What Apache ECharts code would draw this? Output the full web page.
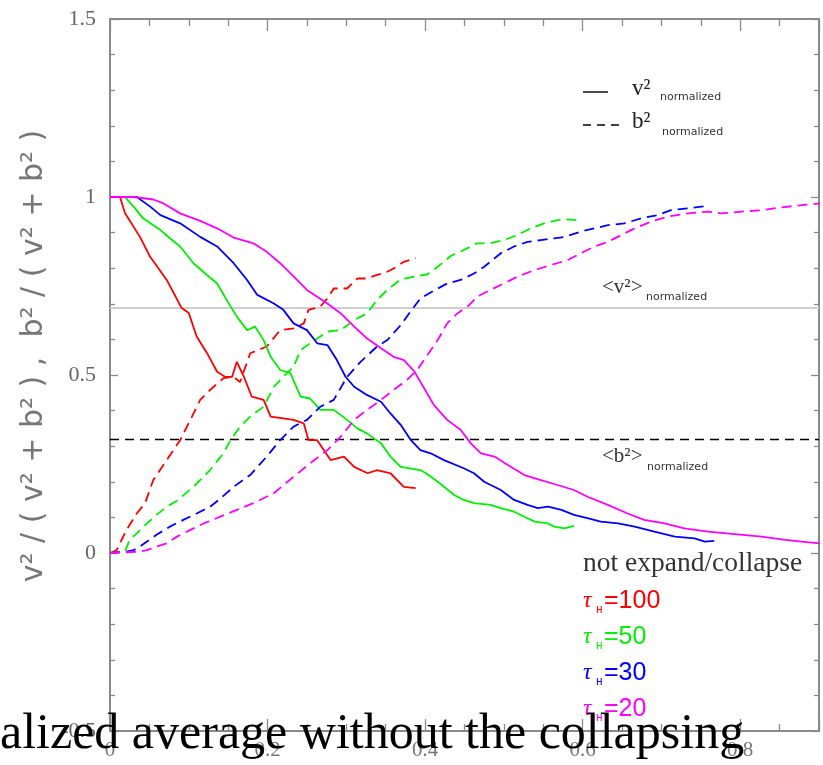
<!DOCTYPE html>
<html>
<head>
<meta charset="utf-8">
<script src="https://cdn.jsdelivr.net/npm/echarts@6/dist/echarts.min.js"></script>
<style>html,body{margin:0;padding:0;background:#fff}#c{width:823px;height:765px}</style>
</head>
<body>
<div id="c"></div>
<script>
// ---- data ----
var xTicks = [0, 0.2, 0.4, 0.6, 0.8];
var yTicks = [-0.5, 0, 0.5, 1, 1.5];
var avgV2 = 0.685;   // <v^2>normalized
var avgB2 = 0.317;   // <b^2>normalized

var redV = [[0,1],[0.0127,1],[0.019,0.955],[0.038,0.888],[0.051,0.832],[0.072,0.767],[0.091,0.688],[0.1,0.674],[0.11,0.608],[0.123,0.562],[0.136,0.509],[0.146,0.495],[0.155,0.495],[0.161,0.537],[0.17,0.495],[0.18,0.439],[0.195,0.43],[0.204,0.383],[0.22,0.378],[0.233,0.374],[0.246,0.364],[0.252,0.317],[0.263,0.317],[0.28,0.261],[0.297,0.271],[0.31,0.242],[0.327,0.224],[0.339,0.233],[0.356,0.224],[0.373,0.186],[0.388,0.182]];
var redB = [[0,0],[0.0085,0.008],[0.0127,0.028],[0.021,0.065],[0.034,0.111],[0.0445,0.14],[0.055,0.205],[0.072,0.261],[0.089,0.317],[0.102,0.374],[0.1145,0.43],[0.127,0.458],[0.144,0.491],[0.157,0.495],[0.165,0.48],[0.178,0.561],[0.199,0.58],[0.216,0.626],[0.233,0.631],[0.246,0.645],[0.252,0.683],[0.267,0.692],[0.276,0.715],[0.284,0.743],[0.301,0.743],[0.314,0.771],[0.326,0.771],[0.339,0.781],[0.352,0.79],[0.36,0.799],[0.373,0.818],[0.388,0.828]];
var greenV = [[0,1],[0.019,1],[0.03,0.973],[0.042,0.94],[0.064,0.907],[0.076,0.884],[0.089,0.861],[0.106,0.814],[0.123,0.781],[0.136,0.757],[0.148,0.711],[0.161,0.664],[0.174,0.626],[0.184,0.636],[0.195,0.598],[0.204,0.551],[0.216,0.514],[0.229,0.505],[0.242,0.439],[0.254,0.434],[0.267,0.402],[0.284,0.402],[0.301,0.374],[0.314,0.35],[0.326,0.336],[0.344,0.308],[0.356,0.271],[0.369,0.242],[0.394,0.233],[0.401,0.224],[0.416,0.2],[0.437,0.163],[0.449,0.149],[0.462,0.14],[0.483,0.135],[0.496,0.126],[0.513,0.116],[0.526,0.102],[0.539,0.088],[0.556,0.083],[0.564,0.074],[0.577,0.069],[0.589,0.076]];
var greenB = [[0,0],[0.019,0.004],[0.025,0.037],[0.034,0.055],[0.047,0.083],[0.059,0.107],[0.072,0.13],[0.085,0.147],[0.106,0.186],[0.127,0.233],[0.144,0.28],[0.153,0.317],[0.165,0.355],[0.178,0.383],[0.195,0.411],[0.208,0.467],[0.22,0.495],[0.233,0.523],[0.242,0.57],[0.254,0.589],[0.276,0.622],[0.293,0.626],[0.31,0.654],[0.326,0.673],[0.339,0.711],[0.352,0.739],[0.369,0.769],[0.386,0.776],[0.403,0.783],[0.416,0.804],[0.433,0.835],[0.449,0.851],[0.466,0.87],[0.483,0.87],[0.5,0.879],[0.517,0.893],[0.534,0.912],[0.551,0.926],[0.568,0.935],[0.581,0.937],[0.592,0.935]];
var blueV = [[0,1],[0.034,1],[0.051,0.973],[0.064,0.949],[0.089,0.926],[0.1145,0.888],[0.136,0.861],[0.157,0.814],[0.174,0.767],[0.187,0.725],[0.208,0.701],[0.22,0.683],[0.233,0.645],[0.25,0.626],[0.263,0.589],[0.276,0.584],[0.288,0.542],[0.299,0.495],[0.31,0.467],[0.326,0.444],[0.344,0.425],[0.356,0.392],[0.369,0.36],[0.382,0.317],[0.394,0.289],[0.407,0.28],[0.424,0.261],[0.449,0.238],[0.462,0.224],[0.475,0.2],[0.496,0.177],[0.513,0.149],[0.53,0.135],[0.543,0.126],[0.556,0.13],[0.573,0.121],[0.589,0.107],[0.606,0.098],[0.623,0.088],[0.645,0.083],[0.666,0.074],[0.691,0.06],[0.717,0.046],[0.742,0.041],[0.755,0.032],[0.767,0.034]];
var blueB = [[0,0],[0.021,0.004],[0.03,0.008],[0.038,0.018],[0.047,0.032],[0.059,0.051],[0.076,0.074],[0.093,0.093],[0.11,0.111],[0.127,0.13],[0.138,0.149],[0.157,0.186],[0.178,0.219],[0.199,0.271],[0.216,0.317],[0.233,0.355],[0.25,0.374],[0.267,0.411],[0.284,0.43],[0.301,0.495],[0.318,0.537],[0.339,0.58],[0.352,0.598],[0.369,0.64],[0.382,0.68],[0.394,0.715],[0.411,0.737],[0.428,0.757],[0.445,0.767],[0.462,0.785],[0.475,0.804],[0.496,0.842],[0.513,0.861],[0.53,0.874],[0.547,0.879],[0.564,0.884],[0.577,0.888],[0.598,0.903],[0.615,0.912],[0.632,0.921],[0.653,0.926],[0.674,0.94],[0.695,0.949],[0.712,0.963],[0.734,0.968],[0.759,0.975]];
var magV = [[0,1],[0.03,1],[0.055,0.993],[0.068,0.982],[0.089,0.954],[0.1145,0.933],[0.136,0.912],[0.157,0.886],[0.182,0.87],[0.199,0.846],[0.216,0.814],[0.233,0.777],[0.25,0.739],[0.276,0.701],[0.293,0.673],[0.31,0.636],[0.326,0.603],[0.344,0.575],[0.36,0.551],[0.373,0.542],[0.386,0.511],[0.399,0.462],[0.411,0.416],[0.428,0.374],[0.445,0.346],[0.458,0.308],[0.471,0.28],[0.488,0.271],[0.505,0.247],[0.526,0.219],[0.547,0.205],[0.568,0.191],[0.589,0.177],[0.606,0.158],[0.632,0.135],[0.657,0.111],[0.678,0.093],[0.704,0.083],[0.729,0.069],[0.759,0.06],[0.793,0.053],[0.827,0.046],[0.857,0.037],[0.878,0.032],[0.901,0.027]];
var magB = [[0,0],[0.038,0.004],[0.047,0.008],[0.059,0.018],[0.072,0.027],[0.085,0.046],[0.102,0.065],[0.119,0.083],[0.14,0.102],[0.161,0.121],[0.182,0.14],[0.208,0.168],[0.233,0.214],[0.254,0.252],[0.276,0.289],[0.293,0.327],[0.31,0.374],[0.326,0.402],[0.344,0.43],[0.36,0.458],[0.377,0.486],[0.39,0.514],[0.403,0.556],[0.416,0.598],[0.428,0.645],[0.441,0.673],[0.454,0.692],[0.466,0.72],[0.483,0.739],[0.5,0.757],[0.517,0.776],[0.539,0.795],[0.56,0.809],[0.581,0.823],[0.598,0.842],[0.615,0.861],[0.632,0.874],[0.649,0.893],[0.666,0.912],[0.687,0.931],[0.708,0.945],[0.734,0.954],[0.759,0.959],[0.776,0.954],[0.802,0.959],[0.827,0.963],[0.852,0.971],[0.878,0.977],[0.901,0.982]];

var tauLabels = ['=100', '=50', '=30', '=20'];
var colors = ['#ff0000', '#00f000', '#0000ff', '#ff00ff'];
var caption = 'alized average without the collapsing';
var yName = 'v\u00b2 / ( v\u00b2 + b\u00b2 ) ,  b\u00b2 / ( v\u00b2 + b\u00b2 )';

// ---- chart ----
var chart = echarts.init(document.getElementById('c'), null, {renderer: 'canvas'});
var axisGray = '#8a8a8a';
var labelFont = 'Liberation Serif';

function mkSeries(data, color, dashed) {
  return {
    type: 'line', data: data, showSymbol: false, symbol: 'none', silent: true,
    xAxisIndex: 0, yAxisIndex: 0, animation: false,
    lineStyle: {color: color, width: 1.8, type: dashed ? [10, 6] : 'solid'},
    z: 5
  };
}

var series = [
  mkSeries(redV, colors[0], false), mkSeries(redB, colors[0], true),
  mkSeries(greenV, colors[1], false), mkSeries(greenB, colors[1], true),
  mkSeries(blueV, colors[2], false), mkSeries(blueB, colors[2], true),
  mkSeries(magV, colors[3], false), mkSeries(magB, colors[3], true)
];
series.push({
  type: 'line', data: [], xAxisIndex: 0, yAxisIndex: 0, silent: true, animation: false,
  markLine: {
    silent: true, symbol: 'none', animation: false, label: {show: false},
    data: [
      {yAxis: avgV2, lineStyle: {color: '#cfcfcf', width: 2, type: 'solid'}},
      {yAxis: avgB2, lineStyle: {color: '#000', width: 1.3, type: [9, 6]}}
    ]
  },
  z: 3
});

function xAx(pos, showLabel) {
  return {
    type: 'value', position: pos, min: 0, max: 0.9, interval: 0.2,
    axisLine: {show: true, onZero: false, lineStyle: {color: axisGray, width: 2}},
    axisTick: {show: true, inside: true, length: 12, lineStyle: {color: axisGray, width: 1.3}},
    minorTick: {show: true, splitNumber: 4, length: 7, lineStyle: {color: axisGray, width: 1.3}},
    axisLabel: {show: showLabel, showMaxLabel: false, color: '#777', fontFamily: labelFont, fontSize: 21, margin: 9,
      formatter: function (v) { return xTicks.indexOf(Math.round(v * 10) / 10) >= 0 ? String(Math.round(v * 10) / 10) : ''; }},
    splitLine: {show: false}
  };
}
function yAx(pos, showLabel) {
  return {
    type: 'value', position: pos, min: -0.5, max: 1.5, interval: 0.5,
    axisLine: {show: true, onZero: false, lineStyle: {color: axisGray, width: 2}},
    axisTick: {show: true, inside: true, length: 8, lineStyle: {color: axisGray, width: 1.3}},
    minorTick: {show: true, splitNumber: 5, length: 5, lineStyle: {color: axisGray, width: 1.3}},
    axisLabel: {show: showLabel, color: '#666', fontFamily: labelFont, fontSize: 22, margin: 14,
      formatter: function (v) { return yTicks.indexOf(v) >= 0 ? String(v) : ''; }},
    splitLine: {show: false}
  };
}

var g = [];
function txt(x, y, text, font, color, extra) {
  var o = {type: 'text', x: x, y: y, z: 50, silent: true,
    style: {text: text, font: font, fill: color, textAlign: 'left', textVerticalAlign: 'middle'}};
  if (extra) for (var k in extra) o[k] = extra[k];
  g.push(o);
}
// y axis title (rotated)
g.push({type: 'text', x: 34, y: 356, rotation: Math.PI / 2, z: 50, silent: true,
  style: {text: yName, font: '30px DejaVu Sans', fill: '#777', textAlign: 'center', textVerticalAlign: 'middle'}});
// legend top right
g.push({type: 'line', z: 50, silent: true, shape: {x1: 583, y1: 92, x2: 608, y2: 92}, style: {stroke: '#000', lineWidth: 1.4}});
g.push({type: 'line', z: 50, silent: true, shape: {x1: 583, y1: 125, x2: 620, y2: 125}, style: {stroke: '#000', lineWidth: 1.4, lineDash: [8, 6]}});
txt(632, 89, 'v\u00b2', '23px Liberation Serif', '#222');
txt(660, 97, 'normalized', '11px DejaVu Sans', '#333');
txt(632, 122, 'b\u00b2', '23px Liberation Serif', '#222');
txt(662, 132, 'normalized', '11px DejaVu Sans', '#333');
// average labels
txt(602, 287, '<v\u00b2>', '21px Liberation Serif', '#333');
txt(646, 297, 'normalized', '11px DejaVu Sans', '#333');
txt(602, 456, '<b\u00b2>', '21px Liberation Serif', '#333');
txt(647, 467, 'normalized', '11px DejaVu Sans', '#333');
// case legend
txt(583, 564, 'not expand/collapse', '27.5px Liberation Serif', '#333');
for (var i = 0; i < tauLabels.length; i++) {
  var yy = 601 + i * 36;
  txt(583, yy, '\u03c4', 'italic 24px Liberation Serif', colors[i]);
  txt(596, yy + 9, 'H', '11px Liberation Mono', colors[i]);
  txt(604, yy, tauLabels[i], '25px Liberation Sans', colors[i]);
}
// slide caption overlay
txt(0, 735, caption, '50px Liberation Serif', '#000', {z: 100});

chart.setOption({
  animation: false,
  backgroundColor: '#fff',
  grid: {left: 110, right: 4, top: 19, bottom: 34, containLabel: false},
  xAxis: [xAx('bottom', true), xAx('top', false)],
  yAxis: [yAx('left', true), yAx('right', false)],
  series: series,
  graphic: g
});
</script>
</body>
</html>
